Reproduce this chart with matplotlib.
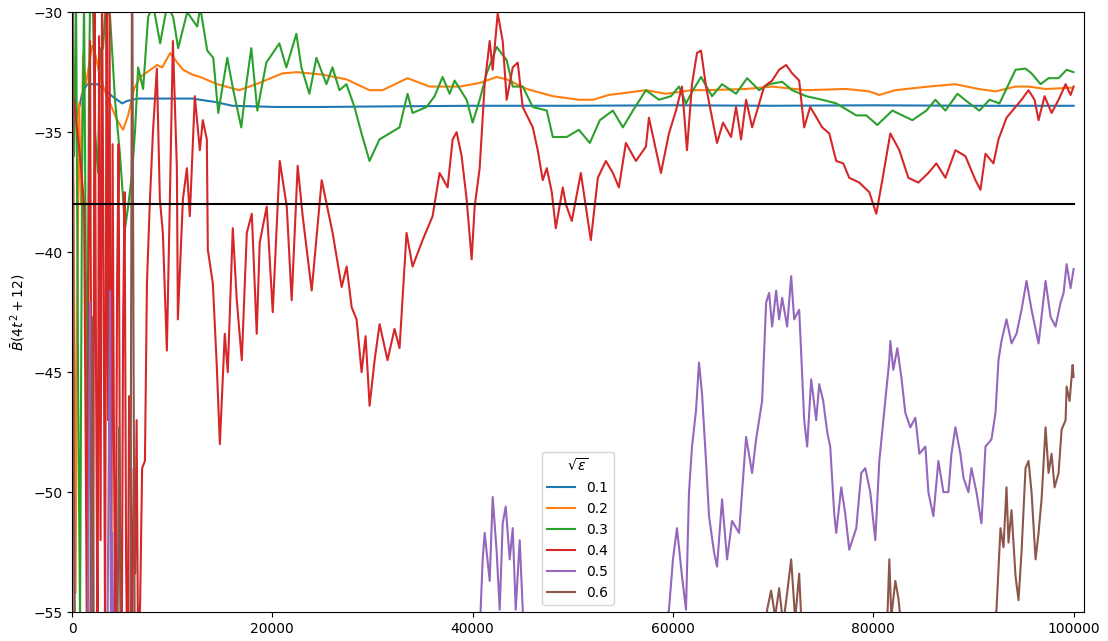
import matplotlib
matplotlib.use('Agg')

import numpy as np
import matplotlib.pyplot as plt

# Sampled paths of B-bar for each sqrt(eps)
x_01 = [0, 150, 400, 700, 1000, 1500, 2500, 3200, 4000, 5000, 5500, 6500, 7500, 10000,
        12000, 14400, 16000, 20400, 25000, 30000, 40000, 50000, 60000, 70000, 80000,
        90000, 100000]
y_01 = [-33.3, -33.2, -34.3, -34.0, -33.4, -33.0, -33.0, -33.2, -33.5, -33.8, -33.7,
        -33.6, -33.6, -33.6, -33.6, -33.75, -33.9, -33.95, -33.95, -33.93, -33.9, -33.9,
        -33.88, -33.9, -33.88, -33.9, -33.9]

x_02 = [0, 150, 250, 350, 500, 700, 900, 1100, 1400, 1700, 2000, 2300, 2700, 3200, 3800,
        4500, 5100, 5600, 6200, 6800, 7500, 8500, 9000, 9800, 10500, 11100, 12000, 12800,
        14500, 16700, 18700, 21000, 22500, 25000, 27400, 29700, 31000, 33500, 35700,
        38700, 40700, 42400, 43400, 45400, 48000, 50600, 52000, 53600, 57300, 59300,
        61900, 63300, 67300, 69900, 73300, 77300, 79600, 80600, 82200, 85500, 88200,
        90500, 92200, 94200, 95500, 97200, 99800]
y_02 = [-33.5, -37.5, -44.0, -54.2, -43.4, -33.8, -38.0, -31.8, -33.0, -32.2, -31.4,
        -31.7, -32.5, -33.2, -33.8, -34.5, -34.9, -34.3, -33.2, -32.7, -32.5, -32.2,
        -32.3, -31.7, -32.1, -32.4, -32.6, -32.7, -33.0, -33.25, -32.95, -32.55, -32.5,
        -32.6, -32.8, -33.25, -33.25, -32.75, -33.1, -33.1, -32.95, -32.7, -32.8, -33.2,
        -33.5, -33.65, -33.65, -33.45, -33.25, -33.4, -33.25, -33.25, -33.2, -33.1,
        -33.25, -33.2, -33.3, -33.45, -33.25, -33.1, -33.0, -33.2, -33.3, -33.1, -33.1,
        -33.2, -33.15]

x_03 = [0, 200, 400, 600, 800, 1000, 1200, 1400, 1500, 1700, 1800, 2100, 2300, 2600,
        2800, 3100, 3400, 3800, 4300, 4800, 5300, 5600, 6000, 6300, 6600, 7100, 7600,
        8100, 8800, 9500, 10100, 10600, 11500, 12500, 12800, 13500, 14100, 14600, 15500,
        16100, 16900, 17400, 17900, 18500, 19400, 20700, 21400, 22400, 22900, 23700,
        24400, 25400, 26000, 26700, 27400, 28200, 28900, 29700, 30700, 31700, 32700,
        33500, 34000, 35400, 36200, 37000, 37700, 38200, 39400, 40000, 40700, 41400,
        42400, 43400, 44000, 45000, 46000, 47400, 48000, 49400, 50600, 51700, 52700,
        54000, 55000, 56000, 57300, 58600, 59800, 60600, 61300, 62000, 62800, 63900,
        64900, 66300, 67400, 68600, 69600, 70900, 71900, 73300, 74900, 76300, 78300,
        79300, 80400, 81900, 83900, 85300, 86200, 87200, 88400, 89600, 90600, 91600,
        92600, 94200, 95200, 95800, 96700, 97500, 98500, 99300, 100000]
y_03 = [-33.3, -36.0, -29.0, -45.0, -55.5, -37.0, -29.5, -42.0, -48.8, -33.0, -29.5,
        -30.0, -35.0, -36.7, -31.5, -31.5, -29.5, -30.2, -33.7, -36.0, -39.0, -38.1,
        -36.7, -34.9, -32.3, -33.2, -30.2, -29.7, -31.3, -29.7, -30.2, -31.5, -30.0,
        -30.6, -29.8, -31.6, -31.9, -34.2, -31.9, -33.25, -34.8, -33.0, -31.5, -34.1,
        -32.1, -31.3, -32.3, -30.9, -32.3, -33.4, -31.9, -33.0, -32.3, -33.25, -33.0,
        -33.95, -35.05, -36.2, -35.3, -35.05, -34.8, -33.4, -34.2, -33.95, -33.5, -32.7,
        -33.4, -32.85, -33.65, -34.6, -33.65, -32.55, -31.45, -32.0, -33.1, -33.1,
        -33.95, -34.1, -35.2, -35.2, -34.9, -35.45, -34.5, -34.1, -34.8, -34.1, -33.25,
        -33.65, -33.5, -33.1, -33.8, -33.25, -32.7, -33.5, -33.0, -33.4, -32.75, -33.25,
        -33.0, -32.9, -33.25, -33.5, -33.65, -33.8, -34.3, -34.3, -34.7, -34.1, -34.5,
        -34.1, -33.65, -34.1, -33.4, -33.8, -34.1, -33.65, -33.8, -32.4, -32.35, -32.55,
        -33.0, -32.75, -32.75, -32.4, -32.5]

x_04 = [0, 400, 800, 1200, 1350, 1500, 1650, 1800, 1950, 2100, 2250, 2400, 2550, 2700,
        2850, 3000, 3150, 3300, 3450, 3600, 3750, 3900, 4050, 4200, 4350, 4500, 4650,
        4800, 4950, 5100, 5250, 5400, 5550, 5700, 5850, 6000, 6150, 6300, 6450, 6600,
        6800, 7000, 7280, 7480, 7780, 8080, 8470, 8770, 9070, 9470, 9770, 10070, 10470,
        10570, 11070, 11470, 11760, 12260, 12760, 13060, 13460, 13560, 14060, 14460,
        14760, 15250, 15550, 16050, 16450, 16950, 17450, 17950, 18440, 18740, 19440,
        20040, 20740, 21440, 21930, 22530, 23030, 23930, 24930, 26020, 26920, 27420,
        27920, 28410, 28910, 29310, 29710, 30210, 30710, 31500, 32200, 32700, 33400,
        34000, 35000, 36000, 36700, 37500, 38000, 38400, 38900, 39400, 39900, 40200,
        40700, 41200, 41700, 42000, 42500, 43000, 43400, 44000, 44500, 45000, 46000,
        46500, 47000, 47400, 47900, 48300, 49000, 49300, 49900, 50800, 51300, 51800,
        52500, 53300, 54000, 54600, 55300, 56300, 57300, 57600, 58300, 58800, 59600,
        60300, 60900, 61400, 61900, 62400, 62800, 63300, 63900, 64400, 65000, 65800,
        66300, 66800, 67300, 67900, 68400, 69100, 69900, 70600, 71300, 71900, 72600,
        73100, 73700, 74200, 74900, 75600, 76300, 77000, 77600, 78600, 79600, 80300,
        80900, 81700, 82600, 83500, 84500, 85500, 86300, 87200, 88200, 89200, 90200,
        90700, 91200, 92000, 92500, 93300, 94200, 94800, 95500, 96100, 96500, 97100,
        97800, 98500, 99200, 99700, 100000]
y_04 = [-33.0, -34.5, -36.0, -38.0, -47.0, -57.0, -40.0, -31.2, -50.0, -58.0, -29.0,
        -45.0, -57.0, -31.0, -52.0, -28.5, -41.0, -56.0, -29.0, -47.0, -30.0, -58.0,
        -35.5, -49.0, -57.0, -41.3, -35.5, -52.0, -58.0, -43.0, -37.5, -53.0, -58.0,
        -46.0, -48.5, -57.0, -49.0, -53.4, -47.0, -57.0, -54.6, -49.0, -48.7, -41.3,
        -37.8, -35.0, -32.35, -37.8, -39.2, -44.1, -37.8, -31.2, -36.5, -42.8, -37.8,
        -36.5, -38.5, -33.5, -35.75, -34.5, -35.3, -39.9, -41.3, -44.8, -48.0, -43.4,
        -45.0, -39.0, -42.0, -44.5, -39.2, -38.4, -43.4, -39.6, -38.1, -42.5, -36.2,
        -38.1, -42.0, -36.4, -38.5, -41.6, -37.0, -39.2, -41.45, -40.6, -42.3, -42.8,
        -45.0, -43.5, -46.4, -44.5, -43.0, -44.5, -43.2, -44.0, -39.2, -40.6, -39.5,
        -38.5, -36.7, -37.3, -35.3, -35.0, -36.0, -37.8, -40.3, -38.1, -36.5, -33.0,
        -31.2, -32.4, -30.05, -31.2, -33.65, -32.3, -32.1, -33.95, -34.8, -35.75, -37.0,
        -36.5, -37.5, -39.0, -37.3, -38.0, -38.7, -36.7, -38.1, -39.5, -36.9, -36.2,
        -36.7, -37.3, -35.45, -36.2, -35.6, -34.4, -35.75, -36.7, -35.05, -34.1, -33.1,
        -35.75, -33.0, -31.7, -31.6, -33.1, -34.4, -35.45, -34.6, -35.2, -33.95, -35.3,
        -33.65, -34.8, -34.1, -33.1, -32.85, -32.4, -32.2, -32.55, -32.85, -34.8,
        -33.95, -34.3, -34.8, -35.05, -36.2, -36.3, -36.9, -37.1, -37.5, -38.4, -37.0,
        -35.05, -35.75, -36.9, -37.1, -36.7, -36.3, -36.9, -35.75, -36.0, -37.0, -37.4,
        -35.9, -36.3, -35.3, -34.4, -33.95, -33.65, -33.25, -33.65, -34.5, -33.5, -34.2,
        -33.65, -33.0, -33.45, -33.1]

x_05 = [0, 300, 1500, 1800, 2000, 3500, 3800, 3900, 4000, 4200, 5000, 20000, 40500,
        41000, 41200, 41700, 42000, 42400, 42700, 43000, 43300, 43700, 44000, 44300,
        44700, 45000, 45500, 58000, 59600, 60000, 60400, 60900, 61300, 61600, 61900,
        62300, 62600, 62900, 63300, 63600, 64100, 64400, 64900, 65400, 65900, 66600,
        67300, 67900, 68300, 68900, 69300, 69600, 69900, 70300, 70600, 70900, 71400,
        71800, 72100, 72600, 72800, 73100, 73400, 73800, 74300, 74600, 75000, 75400,
        75700, 76100, 76300, 76800, 77200, 77600, 78300, 78800, 79200, 79700, 80200,
        80600, 81100, 81600, 81700, 82000, 82400, 82800, 83200, 83700, 84200, 84600,
        85200, 85500, 86000, 86500, 87000, 87500, 87800, 88200, 88700, 89000, 89500,
        89800, 90300, 90800, 91200, 91800, 92200, 92500, 92800, 93300, 93800, 94300,
        94800, 95300, 95800, 96500, 97200, 97700, 98200, 98700, 99000, 99300, 99700,
        100000]
y_05 = [-33.0, -58.0, -60.0, -42.1, -60.0, -58.0, -41.6, -56.0, -51.7, -58.0, -62.0,
        -66.0, -58.0, -52.8, -51.7, -53.7, -50.2, -52.5, -54.9, -51.3, -50.6, -52.8,
        -51.5, -54.9, -52.0, -54.9, -58.0, -58.0, -54.9, -52.8, -51.5, -53.5, -54.9,
        -50.0, -48.1, -46.6, -44.6, -45.9, -48.7, -51.0, -52.5, -53.1, -50.3, -52.8,
        -51.2, -51.7, -47.7, -49.2, -47.8, -46.2, -42.1, -41.7, -43.1, -41.6, -42.8,
        -41.9, -43.1, -41.0, -42.8, -42.4, -44.2, -47.0, -48.1, -45.3, -47.0, -45.5,
        -46.2, -47.5, -48.1, -50.9, -51.7, -49.8, -50.9, -52.4, -51.5, -49.2, -49.0,
        -50.0, -52.0, -48.7, -46.6, -44.5, -43.7, -44.9, -44.0, -45.2, -46.7, -47.3,
        -46.9, -48.4, -48.1, -50.0, -51.0, -48.7, -50.0, -50.0, -48.4, -47.3, -48.4,
        -49.4, -50.0, -49.0, -50.0, -51.3, -48.1, -47.8, -46.7, -44.5, -43.7, -42.8,
        -43.8, -43.4, -42.4, -41.2, -42.4, -43.8, -41.2, -42.7, -43.1, -42.1, -41.7,
        -40.5, -41.5, -40.7]

x_06 = [0, 60, 150, 300, 1800, 2000, 2200, 4500, 4700, 4900, 5800, 6000, 6150, 6300,
        6500, 30000, 69000, 69400, 69800, 70200, 70600, 71000, 71400, 71800, 72200,
        72600, 72800, 73200, 80000, 81400, 81600, 81800, 82200, 82500, 82700, 83000,
        91000, 92300, 92700, 93000, 93300, 93500, 93800, 94200, 94500, 94800, 95200,
        95500, 95800, 96200, 96500, 96800, 97200, 97500, 97800, 98100, 98500, 98800,
        99200, 99300, 99600, 99900, 100000]
y_06 = [-33.0, -27.0, -45.0, -60.0, -58.0, -42.7, -60.0, -58.0, -47.3, -58.0, -60.0,
        -26.0, -45.0, -60.0, -62.0, -70.0, -58.0, -54.9, -54.1, -55.2, -54.0, -55.5,
        -54.2, -52.8, -55.3, -53.4, -55.2, -58.0, -60.0, -55.3, -52.8, -55.2, -53.7,
        -54.4, -55.2, -58.0, -58.0, -54.9, -51.5, -52.3, -49.8, -52.1, -50.75, -53.5,
        -54.5, -52.5, -49.0, -48.7, -50.0, -52.8, -51.7, -50.3, -47.3, -49.2, -48.4,
        -49.8, -49.2, -47.4, -47.0, -45.6, -46.2, -44.7, -45.2]

# Level of the reference line
ref_level = -38.0

eps_labels = ['0.1', '0.2', '0.3', '0.4', '0.5', '0.6']
xs = [x_01, x_02, x_03, x_04, x_05, x_06]
ys = [y_01, y_02, y_03, y_04, y_05, y_06]

plt.figure(figsize=(11.08, 6.41), dpi=100)
for xv, yv, lab in zip(xs, ys, eps_labels):
    plt.plot(xv, yv, label=lab, linewidth=1.5)

plt.plot([0, 100000], [ref_level, ref_level], color='black', linewidth=1.5)

plt.xlim(0, 101000)
plt.ylim(-55, -30)
plt.yticks([-55, -50, -45, -40, -35, -30])
plt.ylabel(r'$\bar{B}(4t^2+12)$')
plt.legend(title=r'$\sqrt{\epsilon}$', loc='lower center')
plt.subplots_adjust(left=0.065, right=0.978, top=0.981, bottom=0.045)
plt.savefig('out.png')
